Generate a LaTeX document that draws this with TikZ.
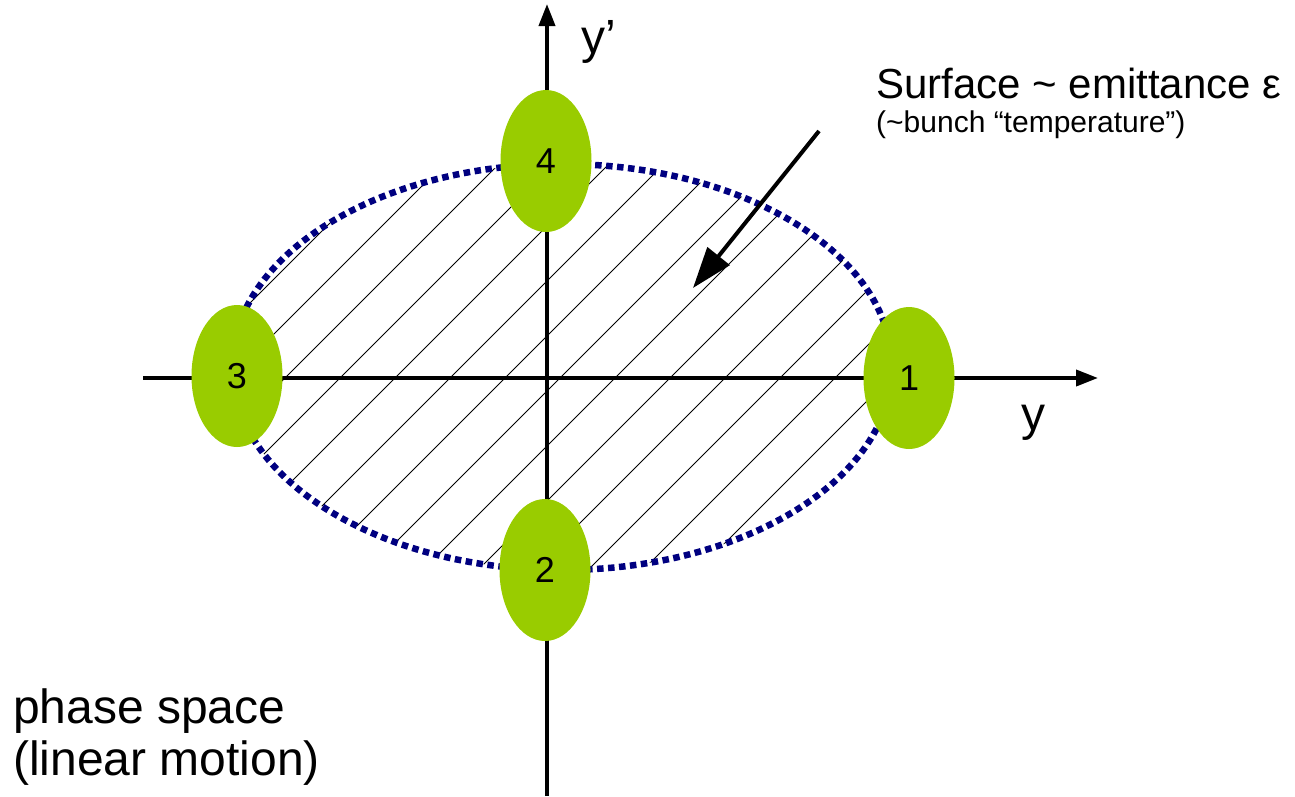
\documentclass[tikz,border=0pt]{standalone}
\usepackage{fontspec}
\setmainfont{Liberation Sans}
\usetikzlibrary{arrows.meta,shapes.geometric}
\definecolor{blobgreen}{HTML}{99CC00}
\definecolor{navyblue}{HTML}{000080}
\tikzset{
  blobnode/.style={ellipse, fill=blobgreen, draw=none, minimum width=91pt, minimum height=142pt, inner sep=0pt, font=\fontsize{36}{40}\selectfont},
  axisline/.style={line width=3.8pt, -{Triangle[length=22pt,width=16pt]}},
  hatchline/.style={line width=0.9pt, black},
  boundary/.style={navyblue, line width=6.5pt, dash pattern=on 6.5pt off 4.5pt},
  pointer/.style={line width=4pt, -{Triangle[length=41pt,width=28pt]}},
  bigtext/.style={inner sep=0pt, font=\fontsize{42}{48}\selectfont},
}
\begin{document}
\begin{tikzpicture}[x=1pt,y=-1pt]
\useasboundingbox (0,0) rectangle (1295,796);
% hatching
\begin{scope}
  \clip (562,367) ellipse [x radius=330pt, y radius=203pt];
  \foreach \k in {-3,...,12} {
    \draw[hatchline] (285+55*\k-500,878) -- (285+55*\k+500,-122);
  }
\end{scope}
% dotted boundary
\draw[boundary] (562,367) ellipse [x radius=330pt, y radius=203pt];
% axes
\coordinate (xl) at (143,378);
\coordinate (xr) at (1098,378);
\coordinate (yb) at (547,796);
\coordinate (yt) at (547,4);
\draw[axisline] (xl) -- (xr);
\draw[axisline] (yb) -- (yt);
% blobs
\node[blobnode] (b1) at (909,378) {1};
\node[blobnode] (b2) at (545,570) {2};
\node[blobnode] (b3) at (237,376) {3};
\node[blobnode] (b4) at (546,161) {4};
% axis labels
\node[inner sep=0pt, anchor=base west, font=\fontsize{48}{52}\selectfont] (ylab) at (581,53) {y’};
\node[inner sep=0pt, anchor=base west, font=\fontsize{48}{52}\selectfont] (xlab) at (1021,430) {y};
% annotation
\node[bigtext, anchor=base west] (surf) at (876,98) {Surface \textasciitilde{} emittance ε};
\node[inner sep=0pt, anchor=base west, font=\fontsize{30}{34}\selectfont] (temp) at (876,132) {(\textasciitilde bunch “temperature”)};
\coordinate (as) at (819,131);
\coordinate (ae) at (693,288);
\draw[pointer] (as) -- (ae);
% caption
\node[inner sep=0pt, anchor=base west, font=\fontsize{48}{54}\selectfont] (ph1) at (13,723) {phase space};
\node[inner sep=0pt, anchor=base west, font=\fontsize{48}{54}\selectfont] (ph2) at (13,775) {(linear motion)};
\end{tikzpicture}
\end{document}
